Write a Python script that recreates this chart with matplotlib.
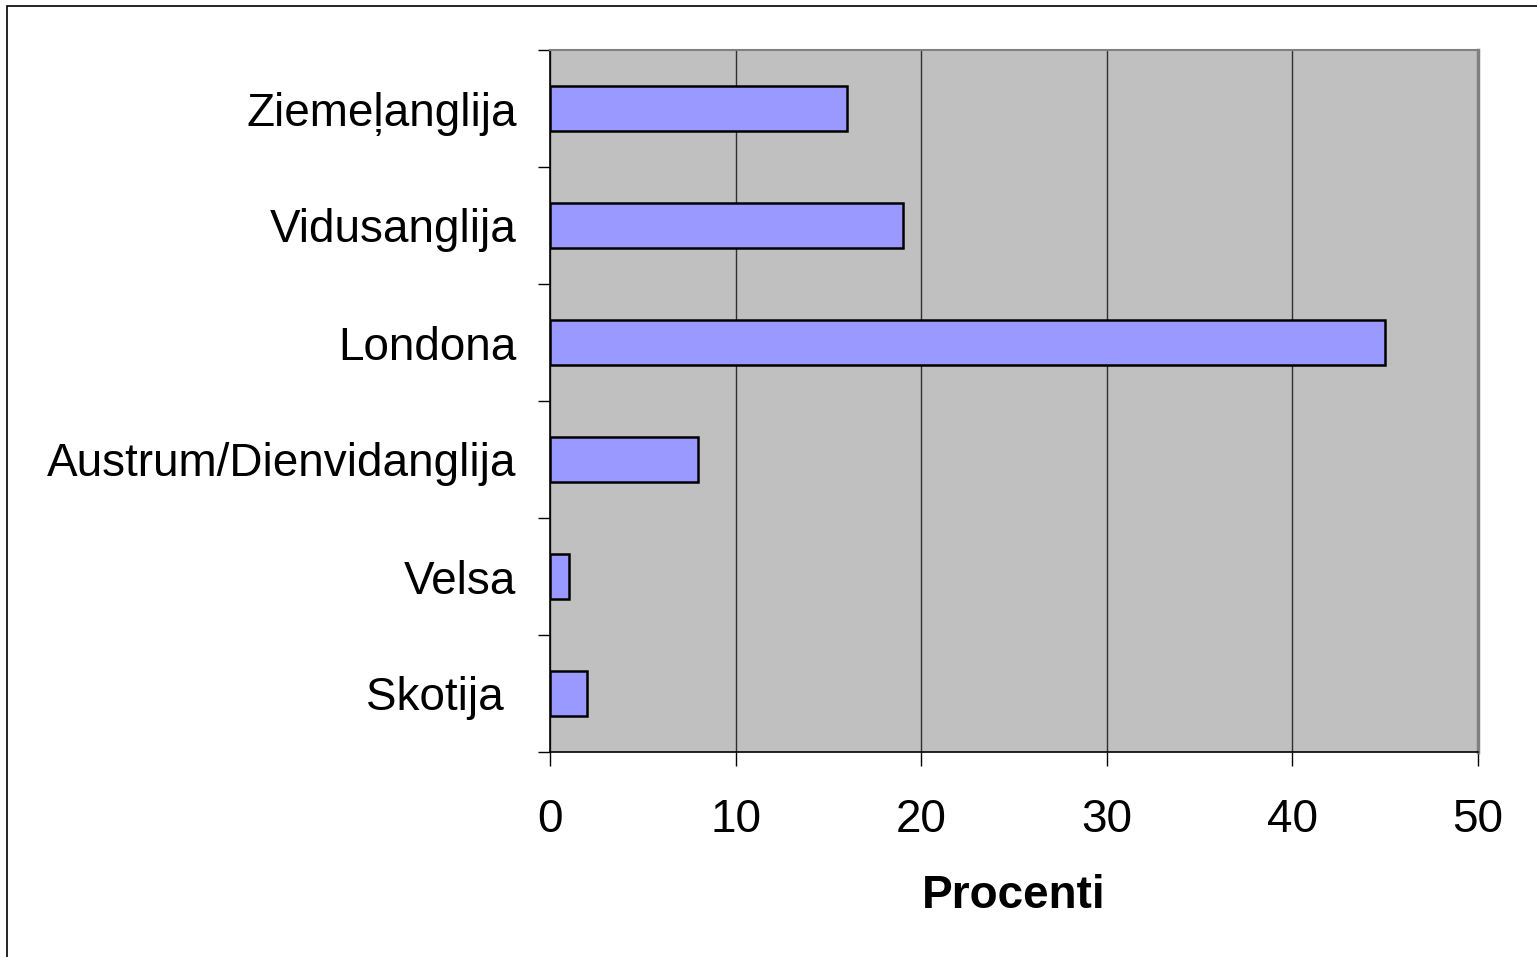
import matplotlib.pyplot as plt
from matplotlib.patches import Rectangle

plt.rcParams['font.family'] = ['Liberation Sans', 'DejaVu Sans']

# data (top to bottom as shown)
regions = ['Ziemeļanglija', 'Vidusanglija', 'Londona', 'Austrum/Dienvidanglija', 'Velsa', 'Skotija ']
percent = [16, 19, 45, 8, 1, 2]
xticks = [0, 10, 20, 30, 40, 50]

fig = plt.figure(figsize=(15.37, 9.57), dpi=100)
ax = fig.add_axes([550 / 1537, 1 - 752 / 957, 928 / 1537, 702 / 957])

# figure frame
fig.patches.append(Rectangle((7 / 1537, -0.1), 1.2, 1.1 - 6 / 957, transform=fig.transFigure,
                             fill=False, edgecolor='black', linewidth=1.2))

ax.set_facecolor('#c0c0c0')
pos = list(range(len(regions)))[::-1]
ax.barh(pos, percent, height=0.39, color='#9999ff', edgecolor='black', linewidth=1.8, zorder=3)

ax.set_xlim(0, 50)
ax.set_ylim(-0.5, len(regions) - 0.5)
ax.set_xticks(xticks)
ax.set_xticklabels([str(t) for t in xticks])
ax.set_yticks(pos)
ax.set_yticklabels(regions)
ax.set_yticks([p - 0.5 for p in range(len(regions) + 1)], minor=True)

ax.tick_params(axis='y', which='major', length=0, pad=24, labelsize=33)
ax.tick_params(axis='y', which='minor', length=9, width=1, direction='out')
ax.tick_params(axis='x', which='major', length=10, width=1, direction='out', pad=23, labelsize=33)

ax.grid(axis='x', color='#303030', linewidth=1, zorder=1)
ax.set_axisbelow(True)

ax.spines['top'].set_color('#808080')
ax.spines['top'].set_linewidth(1.5)
ax.spines['right'].set_color('#808080')
ax.spines['right'].set_linewidth(2.5)
for s in ['left', 'bottom']:
    ax.spines[s].set_color('black')
    ax.spines[s].set_linewidth(1.2)

ax.set_xlabel('Procenti', fontsize=33, fontweight='bold', labelpad=23)

fig.savefig('out.png', dpi=100)
